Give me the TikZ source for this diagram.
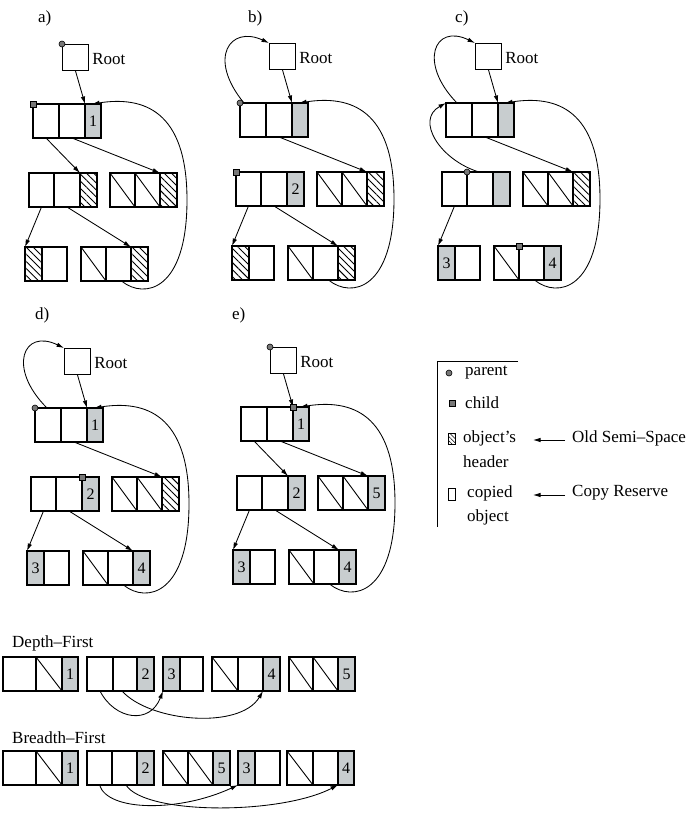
\documentclass[tikz,border=0pt]{standalone}
\usepackage{fontspec}
\setmainfont{Liberation Serif}
\usetikzlibrary{patterns.meta,arrows.meta,calc}
\definecolor{cellgray}{RGB}{200,205,207}
\definecolor{mkgray}{RGB}{120,120,120}
\tikzset{
 cellbase/.style={draw, line width=1.05pt, inner sep=0pt, outer sep=0pt, minimum height=34pt, font=\fontsize{16}{16}\selectfont},
 cp/.style={},
 cs/.style={path picture={\draw[line width=0.9pt] (path picture bounding box.north west) -- (path picture bounding box.south east);}},
 ch/.style={pattern={Lines[angle=-45,distance=5pt,line width=0.9pt]}},
 cg/.style={fill=cellgray},
 ptr/.style={line width=0.85pt, -{Latex[length=7.5pt,width=4.5pt]}},
 parentmk/.style={circle, draw, line width=0.6pt, fill=mkgray, inner sep=0pt, minimum size=6pt},
 childmk/.style={rectangle, draw, line width=0.6pt, fill=mkgray, inner sep=0pt, minimum size=6pt},
 lbl/.style={font=\fontsize{17}{17}\selectfont, inner sep=0pt},
 rootbox/.style={draw, line width=1.05pt, minimum size=26pt, inner sep=0pt},
}
\newcommand\obj[3]{%
  \coordinate (#1) at (#2);
  \foreach [count=\k] \w/\t/\l in {#3} {%
    \ifnum\k=1
      \node[cellbase,\t,minimum width=\w pt,anchor=north west] (#1\k) at (#1) {\l};
    \else
      \pgfmathtruncatemacro\pk{\k-1}%
      \node[cellbase,\t,minimum width=\w pt,anchor=north west] (#1\k) at (#1\pk.north east) {\l};
    \fi
  }%
}
\newcommand\panel[8]{%
 \begin{scope}[shift={(#2,#3)}]
  \node[rootbox,anchor=north west] (#1R) at (29,-60) {};
  \node[lbl,anchor=west] (#1Rt) at ($(#1R.east)+(3,1)$) {Root};
  \obj{#1A}{0,0}{#4}
  \obj{#1B}{-4,69}{#5}
  \obj{#1C}{77,69}{#6}
  \obj{#1D}{-8,143}{#7}
  \obj{#1E}{48,143}{#8}
  \draw[ptr] (#1R.south) -- (#1A3.north west);
  \draw[ptr] (#1B1.south) -- (#1D1.north west);
  \draw[ptr] (#1A2.south) -- (#1C3.north west);
  \draw[ptr] ($(#1E2.south)+(3,0)$) .. controls (112,196) and (154,186) .. (154,96) .. controls (154,6) and (110,-8) .. ($(#1A3.north)+(-1,0)$);
 \end{scope}
}
\begin{document}
\begin{tikzpicture}[x=1pt,y=-1pt]
\useasboundingbox (0,0) rectangle (695,815);

% panel labels
\node[lbl,anchor=west] (la) at (38,18) {a)};
\node[lbl,anchor=west] (lb) at (248,18) {b)};
\node[lbl,anchor=west] (lc) at (455,18) {c)};
\node[lbl,anchor=west] (ld) at (35,315) {d)};
\node[lbl,anchor=west] (le) at (232,315) {e)};

% panel a
\panel{a}{33}{104}
 {26/cp/{},26/cp/{},16/cg/1}
 {25/cp/{},26/cp/{},17/ch/{}}
 {25/cs/{},25/cs/{},17/ch/{}}
 {17/ch/{},25/cp/{}}
 {25/cs/{},25/cp/{},17/ch/{}}
\draw[ptr] (aA1.south) -- (aB3.north west);
\draw[ptr] (aB2.south) -- (aE3.north west);
\node[parentmk] (aPm) at (aR.north west) {};
\node[childmk] (aCm) at (aA1.north west) {};

% panel b
\panel{b}{240}{103}
 {26/cp/{},26/cp/{},16/cg/{}}
 {25/cp/{},26/cp/{},17/cg/2}
 {25/cs/{},25/cs/{},17/ch/{}}
 {17/ch/{},25/cp/{}}
 {25/cs/{},25/cp/{},17/ch/{}}
\draw[ptr] (bB2.south) -- (bE3.north west);
\draw[ptr] ($(bA1.north west)+(4,0)$) .. controls (207,58) and (230,25) .. (bR.north west);
\node[parentmk] (bPm) at (bA1.north west) {};
\node[childmk] (bCm) at (bB1.north west) {};

% panel c
\panel{c}{446}{103}
 {26/cp/{},26/cp/{},16/cg/{}}
 {25/cp/{},26/cp/{},17/cg/{}}
 {25/cs/{},25/cs/{},17/ch/{}}
 {17/cg/3,25/cp/{}}
 {25/cs/{},25/cp/{},17/cg/4}
\draw[ptr] ($(cA1.north west)+(11,0)$) .. controls (418,63) and (434,23) .. (cR.north west);
\draw[ptr] ($(cB2.north west)+(12,0)$) .. controls (440,160) and (415,120) .. (cA1.north west);
\node[parentmk] (cPm) at (cB1.north east) {};
\node[childmk] (cCm) at (cE1.north east) {};

% panel d
\panel{d}{35}{408}
 {26/cp/{},26/cp/{},16/cg/1}
 {25/cp/{},26/cp/{},17/cg/2}
 {25/cs/{},25/cs/{},17/ch/{}}
 {17/cg/3,25/cp/{}}
 {25/cs/{},25/cp/{},17/cg/4}
\draw[ptr] (dB2.south) -- (dE3.north west);
\draw[ptr] ($(dA1.north west)+(12,0)$) .. controls (7,368) and (23,328) .. (dR.north west);
\node[parentmk] (dPm) at (dA1.north west) {};
\node[childmk] (dCm) at (dB3.north west) {};

% panel e
\panel{e}{241}{407}
 {26/cp/{},26/cp/{},16/cg/1}
 {25/cp/{},26/cp/{},17/cg/2}
 {25/cs/{},25/cs/{},17/cg/5}
 {17/cg/3,25/cp/{}}
 {25/cs/{},25/cp/{},17/cg/4}
\draw[ptr] (eA1.south) -- (eB3.north west);
\draw[ptr] (eB2.south) -- (eE3.north west);
\node[parentmk] (ePm) at (eR.north west) {};
\node[childmk] (eCm) at (eA3.north west) {};

% legend
\coordinate (lgTL) at (437,361);
\coordinate (lgTR) at (518,361);
\coordinate (lgBL) at (437,527);
\draw[line width=1pt] (lgTR) -- (lgTL) -- (lgBL);
\node[parentmk] (lgP) at (449,373) {};
\node[lbl,anchor=west] (lgPt) at (465,373) {parent};
\node[childmk] (lgC) at (452,403) {};
\node[lbl,anchor=west] (lgCt) at (465,403) {child};
\node[draw,line width=0.7pt,minimum width=7pt,minimum height=11pt,inner sep=0pt,
      pattern={Lines[angle=-45,distance=3pt,line width=0.6pt]}] (lgH) at (452,439) {};
\node[lbl,anchor=west] (lgHt) at (463,438) {object’s};
\node[lbl,anchor=west] (lgHt2) at (463,462) {header};
\node[draw,line width=0.7pt,minimum width=7pt,minimum height=12pt,inner sep=0pt] (lgO) at (452,494) {};
\node[lbl,anchor=west] (lgOt) at (467,493) {copied};
\node[lbl,anchor=west] (lgOt2) at (467,517) {object};
\node[lbl,anchor=west] (lgOS) at (572,438) {Old Semi–Space};
\node[lbl,anchor=west] (lgCR) at (572,493) {Copy Reserve};
\draw[ptr] ($(lgOS.west)+(-7,2)$) -- ++(-32,0);
\draw[ptr] ($(lgCR.west)+(-7,2)$) -- ++(-32,0);

% depth-first
\node[lbl,anchor=west] (dfL) at (12,643) {Depth–First};
\obj{dfA}{3,657}{33/cp/{},26/cs/{},16/cg/1}
\obj{dfB}{87,657}{26/cp/{},24/cp/{},17/cg/2}
\obj{dfC}{163,657}{17/cg/3,23/cp/{}}
\obj{dfD}{212,657}{26/cs/{},25/cp/{},17/cg/4}
\obj{dfE}{289,657}{24/cs/{},25/cs/{},17/cg/5}
\draw[ptr] (dfB1.south) .. controls (115,720) and (150,725) .. (dfC1.south west);
\draw[ptr] ($(dfB2.south west)+(9,0)$) .. controls (150,722) and (240,730) .. (dfD3.south west);

% breadth-first
\node[lbl,anchor=west] (bfL) at (12,738) {Breadth–First};
\obj{bfA}{3,751}{33/cp/{},26/cs/{},16/cg/1}
\obj{bfB}{87,751}{25/cp/{},25/cp/{},17/cg/2}
\obj{bfC}{163,751}{25/cs/{},25/cs/{},17/cg/5}
\obj{bfD}{238,751}{17/cg/3,25/cp/{}}
\obj{bfE}{287,751}{26/cs/{},25/cp/{},16/cg/4}
\draw[ptr] (bfB1.south) .. controls (108,812) and (180,812) .. (bfD1.south west);
\draw[ptr] ($(bfB2.south west)+(14,0)$) .. controls (145,815) and (280,815) .. (bfE3.south west);
\end{tikzpicture}
\end{document}
